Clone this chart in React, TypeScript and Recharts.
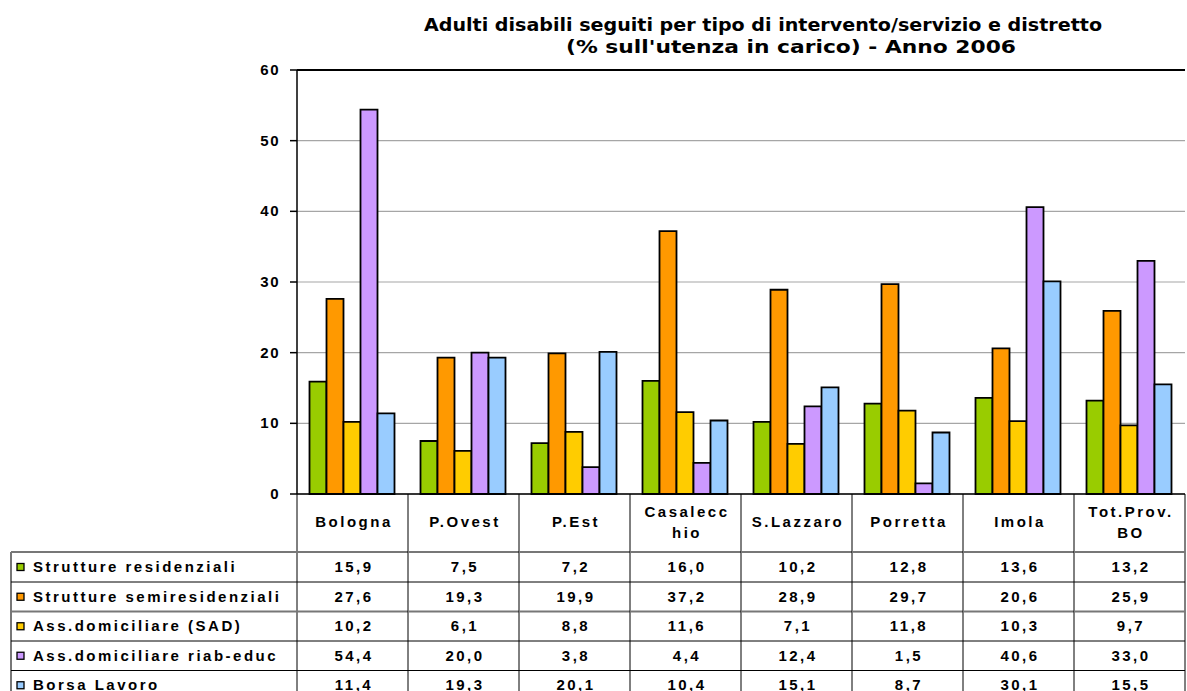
import React from 'react'
import {
  BarChart,
  Bar,
  XAxis,
  YAxis,
  CartesianGrid,
  ReferenceLine
} from 'recharts'

const CATEGORIES = ['Bologna', 'P.Ovest', 'P.Est', 'Casalecc\nhio', 'S.Lazzaro', 'Porretta', 'Imola', 'Tot.Prov.\nBO']

const SERIES_NAMES = [
  'Strutture residenziali',
  'Strutture semiresidenziali',
  'Ass.domiciliare (SAD)',
  'Ass.domiciliare riab-educ',
  'Borsa Lavoro'
]
const SERIES_COLORS = ['#99cc00', '#ff9900', '#ffcc00', '#cc99ff', '#99ccff']

const RESIDENZIALI = [15.9, 7.5, 7.2, 16.0, 10.2, 12.8, 13.6, 13.2]
const SEMIRESIDENZIALI = [27.6, 19.3, 19.9, 37.2, 28.9, 29.7, 20.6, 25.9]
const SAD = [10.2, 6.1, 8.8, 11.6, 7.1, 11.8, 10.3, 9.7]
const RIAB_EDUC = [54.4, 20.0, 3.8, 4.4, 12.4, 1.5, 40.6, 33.0]
const BORSA_LAVORO = [11.4, 19.3, 20.1, 10.4, 15.1, 8.7, 30.1, 15.5]

const SERIES_VALUES = [RESIDENZIALI, SEMIRESIDENZIALI, SAD, RIAB_EDUC, BORSA_LAVORO]
const Y_TICKS = [0, 10, 20, 30, 40, 50, 60]

const TITLE_1 = 'Adulti disabili seguiti per tipo di intervento/servizio e distretto'
const TITLE_2 = "(% sull'utenza in carico) - Anno 2006"

// layout
const W = 1187
const H = 700
const TOP = 70
const BOTTOM = 494
const LEFT = 297
const RIGHT = 1185
const BAND = (RIGHT - LEFT) / CATEGORIES.length
const ROW_LINES = [552, 582, 611.5, 641, 670.5, 700]
const TABLE_LEFT = 11
const FONT = 'Liberation Sans, Arial, sans-serif'
const TITLE_FONT = 'DejaVu Sans, Verdana, sans-serif'

const data = CATEGORIES.map((name, i) => {
  const row: Record<string, string | number> = { name }
  SERIES_VALUES.forEach((vals, s) => {
    row[`s${s}`] = vals[i]
  })
  return row
})

const fmt = (v: number) => v.toFixed(1).replace('.', ',')

// shared props for table / axis text
const tx = {
  fontFamily: FONT,
  fontWeight: 'bold',
  fontSize: 15,
  letterSpacing: 2.5,
  fill: '#000'
}

function YTick(props: any) {
  const { x, y, payload } = props
  return (
    <text x={x + 2} y={y + 5} textAnchor="end" {...tx} letterSpacing={1.5}>
      {payload.value}
    </text>
  )
}

function TableColumn(props: any) {
  const { x, payload, index } = props
  const left = x - BAND / 2
  const right = x + BAND / 2
  const lines = String(payload.value).split('\n')
  const isLast = index === CATEGORIES.length - 1

  return (
    <g>
      <line x1={left} x2={left} y1={BOTTOM} y2={H} stroke="#000" strokeWidth={1} />
      {isLast && <line x1={right} x2={right} y1={BOTTOM} y2={H} stroke="#000" strokeWidth={1} />}
      {lines.map((t, k) => (
        <text key={k} x={x + 1.5} y={lines.length === 1 ? 527 : 517 + k * 21} textAnchor="middle" {...tx}>
          {t}
        </text>
      ))}
      {ROW_LINES.slice(0, -1).map((ly, r) => (
        <line
          key={`h${r}`}
          x1={left}
          x2={right}
          y1={ly}
          y2={ly}
          stroke={r === 0 || r === 2 ? '#777' : '#000'}
          strokeWidth={r === 0 || r === 2 ? 2 : 1}
        />
      ))}
      {SERIES_VALUES.map((vals, r) => (
        <text key={`v${r}`} x={x + 1.5} y={(ROW_LINES[r] + ROW_LINES[r + 1]) / 2 + 5} textAnchor="middle" {...tx}>
          {fmt(vals[index])}
        </text>
      ))}
      {index === 0 && (
        <g>
          <line x1={TABLE_LEFT} x2={TABLE_LEFT} y1={ROW_LINES[0]} y2={H} stroke="#777" strokeWidth={2} />
          {ROW_LINES.slice(0, -1).map((ly, r) => (
            <line
              key={`lh${r}`}
              x1={TABLE_LEFT}
              x2={LEFT}
              y1={ly}
              y2={ly}
              stroke={r === 0 || r === 2 ? '#777' : '#000'}
              strokeWidth={r === 0 || r === 2 ? 2 : 1}
            />
          ))}
          {SERIES_NAMES.map((nm, r) => {
            const cy = (ROW_LINES[r] + ROW_LINES[r + 1]) / 2
            return (
              <g key={`l${r}`}>
                <rect x={17} y={cy - 3.5} width={7} height={7} fill={SERIES_COLORS[r]} stroke="#000" strokeWidth={1.3} />
                <text x={33} y={cy + 5} {...tx}>
                  {nm}
                </text>
              </g>
            )
          })}
        </g>
      )}
    </g>
  )
}

export default function App() {
  return (
    <div style={{ position: 'absolute', left: 0, top: 0, width: W, height: H, background: '#fff' }}>
      <svg width={W} height={70} style={{ position: 'absolute', left: 0, top: 0 }}>
        <text x={424} y={31} textLength={678} lengthAdjust="spacingAndGlyphs"
          fontFamily={TITLE_FONT} fontWeight="bold" fontSize={18} fill="#000">
          {TITLE_1}
        </text>
        <text x={566} y={53} textLength={450} lengthAdjust="spacingAndGlyphs"
          fontFamily={TITLE_FONT} fontWeight="bold" fontSize={18} fill="#000">
          {TITLE_2}
        </text>
      </svg>
      <BarChart
        width={W}
        height={H}
        data={data}
        margin={{ top: TOP, right: W - RIGHT, bottom: 0, left: 0 }}
        barCategoryGap={12.5}
        barGap={0}
      >
        <CartesianGrid horizontal vertical={false} stroke="#a6a6a6" strokeWidth={1.2} />
        <XAxis
          dataKey="name"
          height={H - BOTTOM}
          interval={0}
          tickLine={false}
          axisLine={{ stroke: '#000', strokeWidth: 1.5 }}
          tick={(p: any) => <TableColumn {...p} />}
        />
        <YAxis
          domain={[0, 60]}
          ticks={Y_TICKS}
          width={LEFT}
          tickSize={7}
          tickMargin={12}
          tickLine={{ stroke: '#000', strokeWidth: 1.5 }}
          axisLine={{ stroke: '#000', strokeWidth: 1.5 }}
          tick={(p: any) => <YTick {...p} />}
        />
        <ReferenceLine y={60} stroke="#000" strokeWidth={2} />
        {SERIES_NAMES.map((nm, s) => (
          <Bar
            key={nm}
            dataKey={`s${s}`}
            name={nm}
            fill={SERIES_COLORS[s]}
            stroke="#000"
            strokeWidth={1.8}
            isAnimationActive={false}
          />
        ))}
      </BarChart>
    </div>
  )
}
